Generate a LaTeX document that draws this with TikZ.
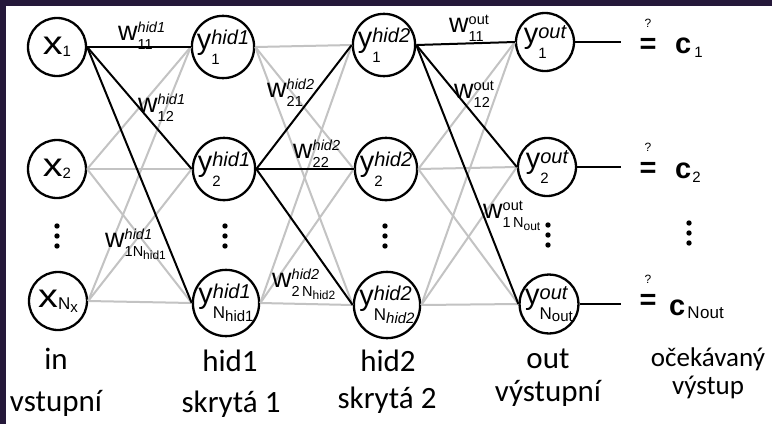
\documentclass[tikz,border=0pt]{standalone}
\usepackage{fontspec}
\setmainfont{Liberation Sans}
\newfontfamily\capfont{Carlito}
\usetikzlibrary{positioning}
\definecolor{framepurple}{RGB}{37,24,58}
\definecolor{linkgray}{RGB}{195,195,195}
\newcommand{\subfs}{\fontsize{15}{15}\selectfont}
\newcommand{\nfs}{\fontsize{17}{17}\selectfont}
\newcommand{\supfs}{\fontsize{20}{20}\selectfont}
\newcommand{\wsfs}{\fontsize{14.5}{15}\selectfont}
\newcommand{\wnfs}{\fontsize{12}{12}\selectfont}
\newlength\supw
\newlength\subw
% superscript over subscript, #1 = lift of the superscript
\newcommand{\supsub}[3]{%
    \settowidth\supw{#2}\settowidth\subw{#3}%
    \rlap{\raisebox{#1}{#2}}\rlap{#3}%
    \ifdim\supw>\subw\hspace{\supw}\else\hspace{\subw}\fi}
\newcommand{\xlab}[1]{\scalebox{1.2}[1]{\fontsize{33}{33}\selectfont x}\raisebox{-2pt}{\subfs #1}}
\newcommand{\ylab}[2]{y\raisebox{-15pt}{\supsub{19.5pt}{\supfs\itshape #1}{\subfs #2}}}
\newcommand{\wlab}[2]{w\raisebox{-9.5pt}{\supsub{17pt}{\wsfs #1}{\wsfs #2}}}
\tikzset{
    neuron/.style={circle, draw, line width=2.3pt, minimum size=58pt, inner sep=0pt, fill=white, font=\fontsize{29}{30}\selectfont},
    weak/.style={linkgray, line width=2pt},
    strong/.style={black, line width=2pt},
    wnode/.style={anchor=base west, inner sep=0pt, font=\fontsize{27}{28}\selectfont},
    layerlab/.style={anchor=base, inner sep=0pt, font=\capfont\fontsize{31}{31}\selectfont},
    explab/.style={anchor=base, inner sep=0pt, align=center, font=\capfont\fontsize{27}{28}\selectfont},
    eqsign/.style={inner sep=0pt, font=\bfseries\fontsize{29}{30}\selectfont},
    qmark/.style={inner sep=0pt, font=\fontsize{12}{12}\selectfont},
    target/.style={anchor=base west, inner sep=0pt, font=\fontsize{29}{30}\selectfont}
}

\begin{document}
\begin{tikzpicture}[x=1pt, y=-1pt]
    \useasboundingbox (0,0) rectangle (772,424);
    \fill[framepurple] (0,0) rectangle (772,424);
    \fill[white] (6,6) rectangle (772,424);

    % Input layer
    \node[neuron] (x1) at (57,47) {\xlab{1}};
    \node[neuron] (x2) at (57,169) {\xlab{2}};
    \node[neuron] (x3) at (58,301) {\xlab{\nfs N\raisebox{-3pt}{\subfs x}}};

    % Hidden layer 1
    \node[neuron] (a1) at (223,47) {\ylab{hid1}{1}};
    \node[neuron] (a2) at (224,169) {\ylab{hid1}{2}};
    \node[neuron] (a3) at (226,303) {\ylab{hid1}{\nfs N\raisebox{-3pt}{\subfs hid1}}};

    % Hidden layer 2
    \node[neuron] (b1) at (384,45) {\ylab{hid2}{1}};
    \node[neuron] (b2) at (386,169) {\ylab{hid2}{2}};
    \node[neuron] (b3) at (387,305) {\ylab{hid2}{\nfs N\raisebox{-3pt}{\subfs\itshape hid2}}};

    % Output layer
    \node[neuron] (o1) at (545,42) {\ylab{out}{1}};
    \node[neuron] (o2) at (547,167) {\ylab{out}{2}};
    \node[neuron] (o3) at (549,304) {\ylab{out}{\nfs N\raisebox{-2pt}{\subfs out}}};

    % Gray connections
    \foreach \s in {2,3} {
        \foreach \t in {1,2,3} {
            \draw[weak] (x\s.east) -- (a\t.west);
            \draw[weak] (b\s.east) -- (o\t.west);
        }
    }
    \foreach \s in {1,3} {
        \foreach \t in {1,2,3} {
            \draw[weak] (a\s.east) -- (b\t.west);
        }
    }

    % Black connections
    \foreach \t in {1,2,3} {
        \draw[strong] (x1.east) -- (a\t.west);
        \draw[strong] (a2.east) -- (b\t.west);
        \draw[strong] (b1.east) -- (o\t.west);
    }

    % Weights
    \node[wnode] (w11a) at (118,40) {\wlab{\itshape hid1}{11}};
    \node[wnode] (w12a) at (138,112) {\wlab{\itshape hid1}{12}};
    \node[wnode] (w1na) at (105,247) {\wlab{\itshape hid1}{1N\raisebox{-3pt}{\wnfs hid1}}};
    \node[wnode] (w21b) at (267,97) {\wlab{\itshape hid2}{21}};
    \node[wnode] (w22b) at (293,158) {\wlab{\itshape hid2}{22}};
    \node[wnode] (w2nb) at (272,287) {\wlab{\itshape hid2}{2\,N\raisebox{-3pt}{\wnfs hid2}}};
    \node[wnode] (w11o) at (449,32) {\wlab{out}{11}};
    \node[wnode] (w12o) at (454,98) {\wlab{out}{12}};
    \node[wnode] (w1no) at (483,218) {\wlab{out}{1\,N\raisebox{-3pt}{\wnfs out}}};

    % Expected outputs
    \coordinate (t1) at (621,42);
    \coordinate (t2) at (621,167);
    \coordinate (t3) at (621,304);
    \foreach \i in {1,2,3} {
        \draw[strong] (o\i.east) -- (t\i);
    }
    \node[eqsign] (eq1) at (648,46) {=};
    \node[eqsign] (eq2) at (648,170) {=};
    \node[eqsign] (eq3) at (648,302) {=};
    \foreach \i in {1,2,3} {
        \node[qmark, above=11pt of eq\i] (q\i) {?};
    }
    \node[target] (c1) at (675,53) {\textbf{c}\hspace{3pt}\raisebox{-4pt}{\subfs 1}};
    \node[target] (c2) at (675,178) {\textbf{c}\hspace{1pt}\raisebox{-4pt}{\subfs 2}};
    \node[target] (c3) at (669,315) {\textbf{c}\hspace{2pt}\raisebox{-3pt}{\nfs N\kern0.5pt out}};

    % Dots
    \foreach \x/\y in {57/236, 225/236, 385/236, 548/235, 689/233} {
        \foreach \k in {-10,0,10} {
            \fill (\x,\y+\k) circle (2.7);
        }
    }

    % Layer captions
    \node[layerlab] (cin) at (56,369) {in};
    \node[layerlab] (cin2) at (56,411) {vstupní};
    \node[layerlab] (ch1) at (230,371) {hid1};
    \node[layerlab] (ch12) at (231,412) {skrytá 1};
    \node[layerlab] (ch2) at (388,371) {hid2};
    \node[layerlab] (ch22) at (387,408) {skrytá 2};
    \node[layerlab] (cout) at (548,368) {out};
    \node[layerlab] (cout2) at (548,401) {výstupní};
    \node[explab] (cexp) at (708,394) {očekávaný\\výstup};
\end{tikzpicture}
\end{document}
